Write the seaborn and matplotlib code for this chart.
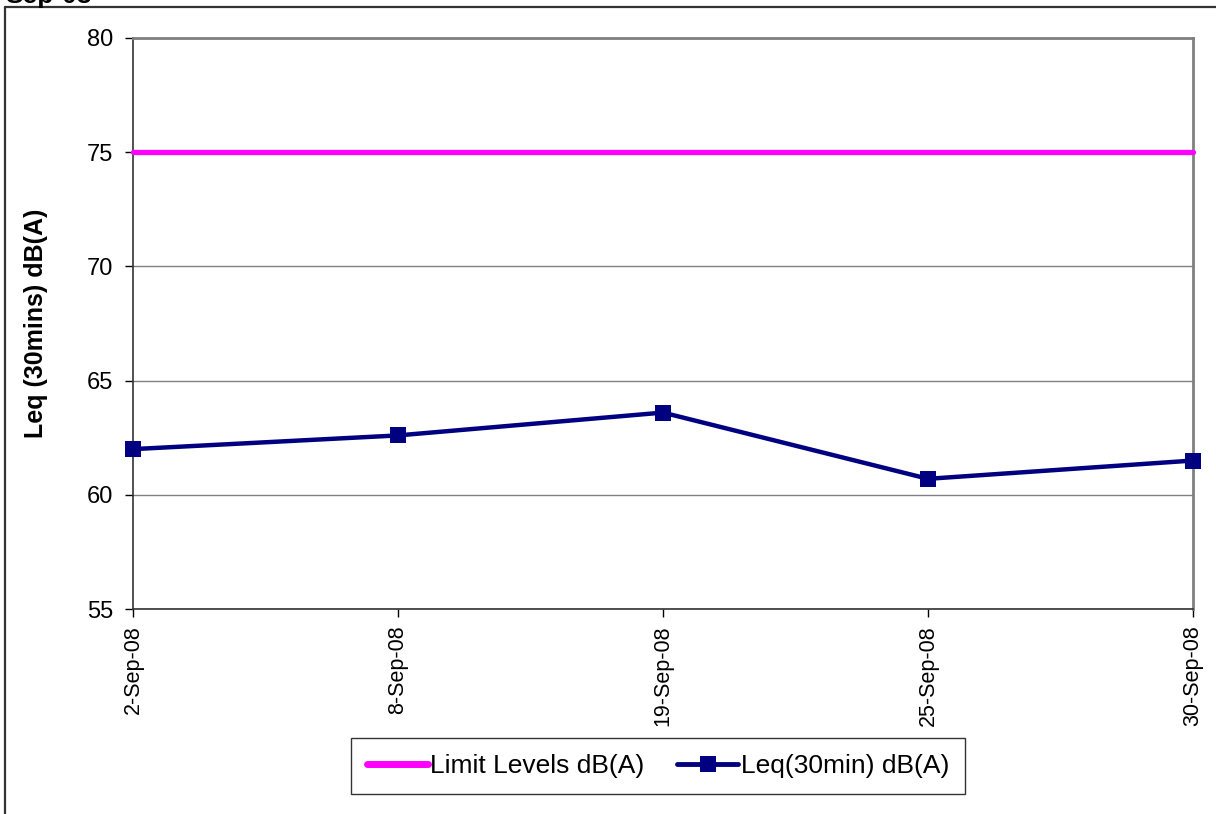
import pandas as pd
import seaborn as sns
import matplotlib.pyplot as plt
from matplotlib.lines import Line2D

dates = ['2-Sep-08', '8-Sep-08', '19-Sep-08', '25-Sep-08', '30-Sep-08']
limit_levels = [75, 75, 75, 75, 75]
leq_values = [62.0, 62.6, 63.6, 60.7, 61.5]

if __name__ == "__main__":
    sns.set_style('white')
    plt.rcParams['font.family'] = ['Liberation Sans', 'DejaVu Sans']
    plt.rcParams['text.color'] = 'black'
    plt.rcParams['xtick.color'] = 'black'
    plt.rcParams['ytick.color'] = 'black'
    plt.rcParams['axes.labelcolor'] = 'black'

    data = pd.DataFrame({'date': dates, 'limit': limit_levels, 'leq': leq_values})

    fig = plt.figure(figsize=(12.16, 8.14), dpi=100)
    ax = fig.add_axes([133/1216, 1-609/814, 1060/1216, 571/814])

    sns.lineplot(data=data, x='date', y='limit', ax=ax, color='#FF00FF',
                 linewidth=3.8, sort=False, solid_capstyle='round', zorder=3, clip_on=False)
    sns.lineplot(data=data, x='date', y='leq', ax=ax, color='#000080', linewidth=3.2,
                 marker='s', markersize=11, markeredgewidth=0, sort=False, zorder=4, clip_on=False)

    ax.set_xlim(0, len(dates) - 1)
    ax.set_ylim(55, 80)
    ax.set_yticks([55, 60, 65, 70, 75, 80])
    ax.set_xticks(range(len(dates)))
    ax.set_xticklabels(dates, rotation=90)
    ax.tick_params(axis='y', labelsize=17, length=6, width=1, direction='out', left=True, pad=8)
    ax.tick_params(axis='x', labelsize=15.5, length=6, width=1, direction='out', bottom=True, pad=6)
    ax.grid(axis='y', color='#808080', linewidth=1)
    ax.grid(axis='x', visible=False)
    ax.set_xlabel('')
    ax.set_ylabel('Leq (30mins) dB(A)', fontsize=18, fontweight='bold')
    ax.yaxis.set_label_coords(-0.08, 0.5)
    for side in ['top', 'right']:
        ax.spines[side].set_color('#808080')
        ax.spines[side].set_linewidth(2)
    for side in ['left', 'bottom']:
        ax.spines[side].set_color('#333333')
        ax.spines[side].set_linewidth(1.2)

    # outer chart frame (partially visible)
    fig.add_artist(Line2D([5/1216, 5/1216], [0, 1-7/814], color='#333333', linewidth=1.6))
    fig.add_artist(Line2D([5/1216, 1], [1-7/814, 1-7/814], color='#333333', linewidth=1.6))
    fig.text(5/1216, 1-3/814, 'Sep-08', fontsize=19, fontweight='bold', va='baseline', ha='left')

    handles = [
        Line2D([], [], color='#FF00FF', linewidth=5, solid_capstyle='round'),
        Line2D([], [], color='#000080', linewidth=3.5, marker='s', markersize=11, markeredgewidth=0),
    ]
    leg = fig.legend(handles, ['Limit Levels dB(A)', 'Leq(30min) dB(A)'], loc='center',
                     bbox_to_anchor=(658/1216, 1-766/814), ncol=2, fontsize=19,
                     frameon=True, fancybox=False, edgecolor='#000000', handlelength=2.3,
                     handletextpad=0.1, columnspacing=1.25, borderpad=0.6)
    leg.get_frame().set_linewidth(1)

    fig.savefig('out.png', dpi=100)
